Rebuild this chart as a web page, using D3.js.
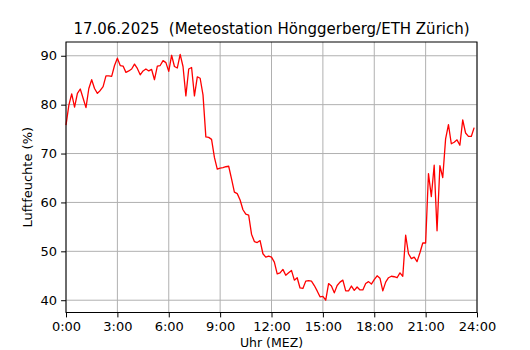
<!DOCTYPE html>
<html>
<head>
<meta charset="utf-8">
<script src="https://cdn.jsdelivr.net/npm/d3@7"></script>
<style>
  html, body { margin: 0; padding: 0; background: #fff; }
  svg { display: block; font-family: "DejaVu Sans", sans-serif; }
</style>
</head>
<body>
<script>
// ---- Data (10-minute readings, 17.06.2025) ----
const titleText = "17.06.2025  (Meteostation Hönggerberg/ETH Zürich)";
const xLabel = "Uhr (MEZ)";
const yLabel = "Luftfeuchte (%)";
const startHour = 0;
const stepMinutes = 10;
const humidity = [
  75.8, 79.9, 82.2, 79.5, 82.3, 83.2, 81.3, 79.4, 83.3, 85.1, 83.3, 82.3,
  82.9, 83.7, 85.9, 85.9, 85.8, 88.0, 89.5, 88.0, 87.9, 86.6, 86.9, 87.3,
  88.3, 87.4, 86.1, 86.9, 87.3, 86.9, 87.2, 85.1, 87.9, 88.0, 89.0, 88.6,
  86.8, 90.1, 87.8, 87.5, 90.3, 87.8, 81.8, 87.3, 87.6, 81.8, 85.7, 85.4,
  82.0, 73.4, 73.3, 72.9, 69.2, 66.8, 67.0, 67.1, 67.3, 67.4, 64.8, 62.1,
  61.8, 60.5, 58.5, 57.6, 57.4, 53.5, 52.0, 51.8, 52.2, 49.5, 48.8, 49.0,
  48.8, 47.8, 45.4, 45.6, 46.3, 45.1, 45.6, 46.1, 44.1, 44.6, 42.5, 42.4,
  43.9, 44.0, 43.9, 43.0, 41.9, 40.7, 40.8, 40.0, 43.4, 42.9, 41.5, 43.0,
  43.7, 44.1, 41.9, 41.9, 42.9, 42.0, 42.7, 42.1, 42.1, 43.4, 43.8, 43.3,
  44.2, 45.0, 44.5, 41.9, 43.7, 44.6, 44.9, 44.8, 44.6, 45.6, 44.9, 53.3,
  49.5, 48.5, 48.8, 47.9, 49.7, 51.7, 51.7, 65.9, 61.2, 67.6, 54.2, 67.5,
  65.1, 73.0, 75.9, 72.0, 72.3, 72.8, 71.7, 76.9, 74.2, 73.5, 73.5, 75.3
];
const xTicks = [0, 3, 6, 9, 12, 15, 18, 21, 24];
const xTickLabels = ["0:00", "3:00", "6:00", "9:00", "12:00", "15:00", "18:00", "21:00", "24:00"];
const yTicks = [40, 50, 60, 70, 80, 90];

// ---- Layout ----
const W = 530, H = 350;
const margin = { top: 42, right: 53, bottom: 37.5, left: 66 };
const iw = W - margin.left - margin.right;
const ih = H - margin.top - margin.bottom;

const points = humidity.map((v, i) => ({ h: startHour + i * stepMinutes / 60, v }));

const x = d3.scaleLinear().domain([0, 24]).range([0, iw]);
const [mn, mx] = d3.extent(humidity);
const pad = (mx - mn) * 0.05;
const y = d3.scaleLinear().domain([mn - pad, mx + pad]).range([ih, 0]);

const svg = d3.select("body").append("svg").attr("width", W).attr("height", H);
const g = svg.append("g").attr("transform", `translate(${margin.left},${margin.top})`);

// grid
g.append("g").selectAll("line.vx").data(xTicks).join("line")
  .attr("x1", d => x(d)).attr("x2", d => x(d)).attr("y1", 0).attr("y2", ih)
  .attr("stroke", "#b0b0b0").attr("stroke-width", 1);
g.append("g").selectAll("line.hy").data(yTicks).join("line")
  .attr("x1", 0).attr("x2", iw).attr("y1", d => y(d)).attr("y2", d => y(d))
  .attr("stroke", "#b0b0b0").attr("stroke-width", 1);

// line
g.append("path").datum(points)
  .attr("fill", "none").attr("stroke", "#ff0000").attr("stroke-width", 1.3)
  .attr("stroke-linejoin", "round")
  .attr("d", d3.line().x(d => x(d.h)).y(d => y(d.v)));

// axes
const xAxis = d3.axisBottom(x).tickValues(xTicks).tickFormat((d, i) => xTickLabels[i])
  .tickSizeInner(4.9).tickSizeOuter(0).tickPadding(4);
const yAxis = d3.axisLeft(y).tickValues(yTicks).tickFormat(d3.format("d"))
  .tickSizeInner(4.9).tickSizeOuter(0).tickPadding(4);

const gx = g.append("g").attr("transform", `translate(0,${ih})`).call(xAxis);
const gy = g.append("g").call(yAxis);
[gx, gy].forEach(a => {
  a.select(".domain").remove();
  a.selectAll("line").attr("stroke", "#000").attr("stroke-width", 1);
  a.selectAll("text").attr("fill", "#000").style("font-size", "13px")
    .style("font-family", "'DejaVu Sans', sans-serif");
});

// frame
g.append("rect").attr("x", 0).attr("y", 0).attr("width", iw).attr("height", ih)
  .attr("fill", "none").attr("stroke", "#000").attr("stroke-width", 1);

// labels
svg.append("text").attr("x", margin.left + iw / 2).attr("y", 34)
  .attr("text-anchor", "middle").style("font-size", "15px").attr("fill", "#000")
  .style("white-space", "pre").attr("xml:space", "preserve")
  .text(titleText);
svg.append("text").attr("x", margin.left + iw / 2).attr("y", 346.5)
  .attr("text-anchor", "middle").style("font-size", "12.5px").attr("fill", "#000")
  .text(xLabel);
svg.append("text")
  .attr("transform", `translate(32,${margin.top + ih / 2}) rotate(-90)`)
  .attr("text-anchor", "middle").style("font-size", "13px").attr("fill", "#000")
  .text(yLabel);
</script>
</body>
</html>
